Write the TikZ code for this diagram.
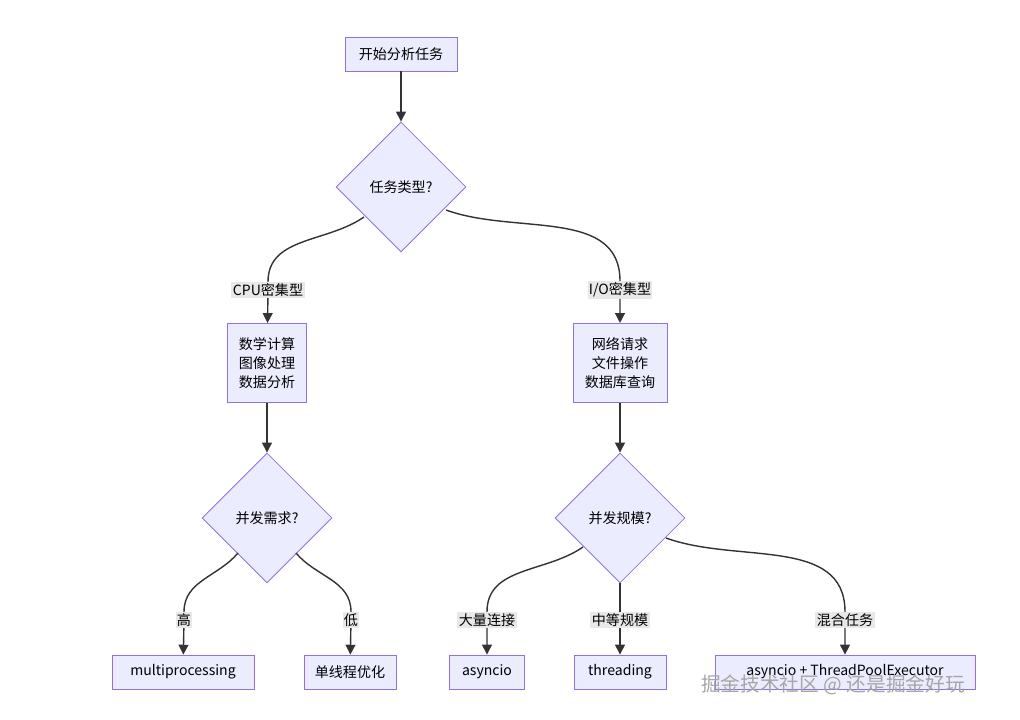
\documentclass[tikz,border=0pt]{standalone}
\usepackage{fontspec}
\setmainfont{Noto Sans CJK SC}
\usetikzlibrary{shapes.geometric,arrows.meta}
\definecolor{boxfill}{HTML}{ECECFF}
\definecolor{boxline}{HTML}{9370DB}
\definecolor{edgeline}{HTML}{333333}
\definecolor{lblfill}{HTML}{E8E8E8}
\tikzset{
  box/.style={draw=boxline, fill=boxfill, line width=0.6pt, inner sep=0pt, align=center, font=\fontsize{10}{13.5}\selectfont},
  dec/.style={draw=boxline, fill=boxfill, line width=0.6pt, diamond, aspect=1, inner sep=0pt, minimum width=3.25cm, minimum height=3.25cm, font=\fontsize{10}{12}\selectfont},
  lbl/.style={fill=lblfill, inner sep=1pt, font=\fontsize{10}{12}\selectfont},
  arr/.style={draw=edgeline, line width=1pt, -{Triangle[length=7pt,width=7pt]}},
}
\begin{document}
\begin{tikzpicture}[x=0.025cm, y=-0.025cm]
  \useasboundingbox (0,0) rectangle (1020,720);
  \node[box, minimum width=2.8cm, minimum height=0.85cm] (start) at (401,54) {开始分析任务};
  \node[dec] (type) at (401,187) {任务类型?};
  \node[lbl] (lcpu) at (268,290) {CPU密集型};
  \node[lbl] (lio) at (620,290) {I/O密集型};
  \node[box, minimum width=1.98cm, minimum height=1.98cm] (cpu) at (267,363) {数学计算\\图像处理\\数据分析};
  \node[box, minimum width=2.35cm, minimum height=1.98cm] (io) at (620,363) {网络请求\\文件操作\\数据库查询};
  \node[dec] (cpuq) at (267,518) {并发需求?};
  \node[dec] (ioq) at (620,518) {并发规模?};
  \node[lbl] (lhi) at (184,620) {高};
  \node[lbl] (llo) at (351,620) {低};
  \node[lbl] (lmany) at (487,620) {大量连接};
  \node[lbl] (lmid) at (620,620) {中等规模};
  \node[lbl] (lmix) at (845,620) {混合任务};
  \node[box, minimum width=3.55cm, minimum height=0.85cm] (mp) at (183,672) {multiprocessing};
  \node[box, minimum width=2.3cm, minimum height=0.85cm] (single) at (350,672) {单线程优化};
  \node[box, minimum width=1.88cm, minimum height=0.85cm] (aio) at (487,672) {asyncio};
  \node[box, minimum width=2.3cm, minimum height=0.85cm] (thr) at (620,672) {threading};
  \node[box, minimum width=6.5cm, minimum height=0.85cm] (mix) at (845,672) {asyncio + ThreadPoolExecutor};
  % edges, starting at the diamond sides
  \coordinate (t1) at (364,217);
  \coordinate (t2) at (446,210);
  \coordinate (c1) at (238,553);
  \coordinate (c2) at (296,553);
  \coordinate (i1) at (583,547);
  \coordinate (i3) at (666,538);
  \draw[arr] (start) -- (type);
  \draw[arr] (t1) to[out=215,in=90] (lcpu) -- (cpu);
  \draw[arr] (t2) to[out=-20,in=90] (lio) -- (io);
  \draw[arr] (cpu) -- (cpuq);
  \draw[arr] (io) -- (ioq);
  \draw[arr] (c1) to[out=230,in=90] (lhi) -- (mp);
  \draw[arr] (c2) to[out=-50,in=90] (llo) -- (single);
  \draw[arr] (i1) to[out=215,in=90] (lmany) -- (aio);
  \draw[arr] (ioq) -- (lmid) -- (thr);
  \draw[arr] (i3) to[out=-20,in=90] (lmix) -- (mix);
  \node[font=\fontsize{14}{16}\selectfont, text=gray!70] (wm) at (833,685) {掘金技术社区 @ 还是掘金好玩};
\end{tikzpicture}
\end{document}
